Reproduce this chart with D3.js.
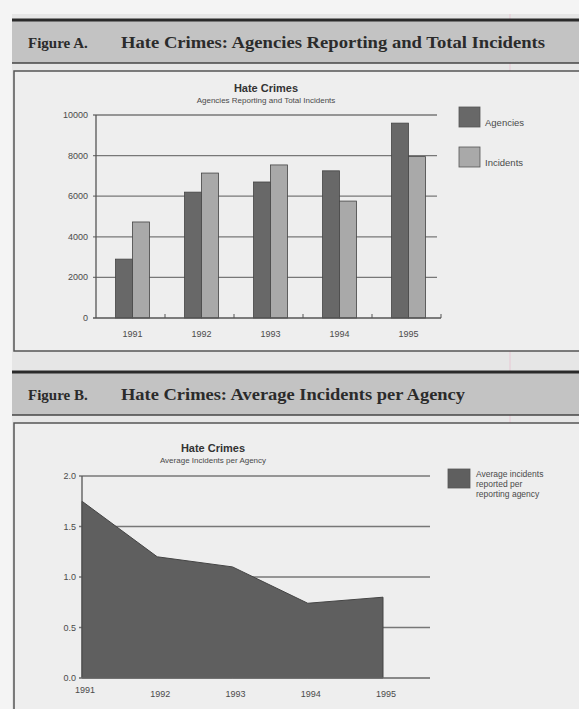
<!DOCTYPE html>
<html>
<head>
<meta charset="utf-8">
<script src="https://cdn.jsdelivr.net/npm/d3@7"></script>
<style>
  body { margin: 0; background: #f4f4f4; }
  svg { display: block; }
</style>
</head>
<body>
<svg id="page" width="579" height="709"></svg>
<script>
// data
const years = ["1991", "1992", "1993", "1994", "1995"];
const agencies = [2900, 6200, 6700, 7250, 9600];
const incidents = [4730, 7140, 7540, 5760, 7950];
const avgPerAgency = [1.75, 1.2, 1.1, 0.74, 0.8];
const ticksA = [0, 2000, 4000, 6000, 8000, 10000];
const ticksB = [0, 0.5, 1.0, 1.5, 2.0];
const seriesNames = ["Agencies", "Incidents"];
const legendB = ["Average incidents", "reported per", "reporting agency"];

const svg = d3.select("#page");
const sans = "'Liberation Sans', Arial, sans-serif";
const serif = "'Liberation Serif', 'Times New Roman', serif";
const txt = "#4a4a4a";

// paper
svg.append("rect").attr("x", 12).attr("y", 14).attr("width", 567).attr("height", 695).attr("fill", "#e6e6e6");
// faint margin line from the page
svg.append("line").attr("x1", 510).attr("x2", 510).attr("y1", 14).attr("y2", 709)
  .attr("stroke", "#e8c8d4").attr("stroke-width", 1);

// header band + chart box, for one figure
function frame(top, boxBottom, label, title, titleLen) {
  svg.append("rect").attr("x", 12).attr("y", top).attr("width", 567).attr("height", 43)
    .attr("fill", "#c3c3c3");
  svg.append("line").attr("x1", 12).attr("x2", 579).attr("y1", top).attr("y2", top)
    .attr("stroke", "#2a2a2a").attr("stroke-width", 3);
  svg.append("line").attr("x1", 12).attr("x2", 579).attr("y1", top + 43).attr("y2", top + 43)
    .attr("stroke", "#444").attr("stroke-width", 1.5);
  svg.append("rect").attr("x", 14).attr("y", top + 51).attr("width", 570).attr("height", boxBottom - top - 51)
    .attr("fill", "#eeeeee").attr("stroke", "#555").attr("stroke-width", 1.5);
  svg.append("text").attr("x", 28).attr("y", top + 28)
    .attr("font-family", serif).attr("font-weight", "bold").attr("font-size", 15)
    .attr("fill", "#2b2b2b").text(label);
  svg.append("text").attr("x", 121).attr("y", top + 28)
    .attr("font-family", serif).attr("font-weight", "bold").attr("font-size", 16)
    .attr("fill", "#2b2b2b").attr("textLength", titleLen).attr("lengthAdjust", "spacingAndGlyphs")
    .text(title);
}

frame(20, 351, "Figure A.", "Hate Crimes: Agencies Reporting and Total Incidents", 424);
frame(372, 712, "Figure B.", "Hate Crimes: Average Incidents per Agency", 344);

function chartTitle(cx, y, sub) {
  svg.append("text").attr("x", cx).attr("y", y).attr("text-anchor", "middle")
    .attr("font-family", sans).attr("font-weight", "bold").attr("font-size", 11).attr("fill", "#333")
    .text("Hate Crimes");
  svg.append("text").attr("x", cx).attr("y", y + 11).attr("text-anchor", "middle")
    .attr("font-family", sans).attr("font-size", 8).attr("fill", txt)
    .text(sub);
}

// ---------- Figure A: grouped bars ----------
const xA = d3.scaleBand().domain(years).range([96, 441]);
const yA = d3.scaleLinear().domain([0, 10000]).range([318, 115]);
const inner = d3.scaleBand().domain(seriesNames).range([0, 34]);
const colorsA = ["#686868", "#a9a9a9"];

chartTitle(266, 92, "Agencies Reporting and Total Incidents");

const gA = svg.append("g");
gA.selectAll(".grid").data(ticksA.slice(1)).join("line")
  .attr("x1", 93).attr("x2", 437)
  .attr("y1", d => yA(d)).attr("y2", d => yA(d))
  .attr("stroke", "#777").attr("stroke-width", 1.3);

gA.selectAll(".ylab").data(ticksA).join("text")
  .attr("x", 88).attr("y", d => yA(d) + 3).attr("text-anchor", "end")
  .attr("font-family", sans).attr("font-size", 9).attr("fill", txt)
  .text(d => d);

const groups = gA.selectAll(".yr").data(years).join("g")
  .attr("transform", d => `translate(${xA(d) + xA.bandwidth() / 2 - 15},0)`);
groups.selectAll("rect").data((d, i) => [agencies[i], incidents[i]]).join("rect")
  .attr("x", (d, j) => inner(seriesNames[j]))
  .attr("width", inner.bandwidth())
  .attr("y", d => yA(d))
  .attr("height", d => yA(0) - yA(d))
  .attr("fill", (d, j) => colorsA[j])
  .attr("stroke", "#444").attr("stroke-width", 0.8);

// axes
gA.append("line").attr("x1", 96).attr("x2", 96).attr("y1", 115).attr("y2", 318)
  .attr("stroke", "#555").attr("stroke-width", 1.3);
gA.append("line").attr("x1", 93).attr("x2", 441).attr("y1", 318).attr("y2", 318)
  .attr("stroke", "#555").attr("stroke-width", 1.3);
gA.selectAll(".xt").data(years.slice(1).concat(["end"])).join("line")
  .attr("x1", d => d === "end" ? 441 : xA(d)).attr("x2", d => d === "end" ? 441 : xA(d))
  .attr("y1", 318).attr("y2", 314).attr("stroke", "#555");
gA.selectAll(".xlab").data(years).join("text")
  .attr("x", d => xA(d) + xA.bandwidth() / 2 + 2).attr("y", 337).attr("text-anchor", "middle")
  .attr("font-family", sans).attr("font-size", 9).attr("fill", txt)
  .text(d => d);

// legend A
seriesNames.forEach((name, i) => {
  svg.append("rect").attr("x", 459).attr("y", 107 + i * 40).attr("width", 21).attr("height", 20)
    .attr("fill", colorsA[i]).attr("stroke", "#555").attr("stroke-width", 0.8);
  svg.append("text").attr("x", 485).attr("y", 126 + i * 40)
    .attr("font-family", sans).attr("font-size", 9.5).attr("fill", txt).text(name);
});

// ---------- Figure B: area ----------
const xB = d3.scalePoint().domain(years).range([82, 383]);
const yB = d3.scaleLinear().domain([0, 2]).range([678, 476]);

chartTitle(213, 452, "Average Incidents per Agency");

const gB = svg.append("g");
gB.selectAll(".grid").data(ticksB.slice(1)).join("line")
  .attr("x1", 79).attr("x2", 430)
  .attr("y1", d => yB(d)).attr("y2", d => yB(d))
  .attr("stroke", "#777").attr("stroke-width", 1.3);

const area = d3.area()
  .x((d, i) => xB(years[i]))
  .y0(yB(0))
  .y1(d => yB(d));
gB.append("path").datum(avgPerAgency).attr("d", area)
  .attr("fill", "#5f5f5f").attr("stroke", "#444").attr("stroke-width", 1);

gB.append("line").attr("x1", 82).attr("x2", 82).attr("y1", 476).attr("y2", 678)
  .attr("stroke", "#555").attr("stroke-width", 1.3);
gB.append("line").attr("x1", 79).attr("x2", 430).attr("y1", 678).attr("y2", 678)
  .attr("stroke", "#666").attr("stroke-width", 1.3);

gB.selectAll(".ylab").data(ticksB).join("text")
  .attr("x", 76).attr("y", d => yB(d) + 3).attr("text-anchor", "end")
  .attr("font-family", sans).attr("font-size", 9).attr("fill", txt)
  .text(d3.format(".1f"));
gB.selectAll(".xlab").data(years).join("text")
  .attr("x", d => xB(d) + 3).attr("y", d => d === "1991" ? 693 : 697).attr("text-anchor", "middle")
  .attr("font-family", sans).attr("font-size", 9).attr("fill", txt)
  .text(d => d);

// legend B
svg.append("rect").attr("x", 448).attr("y", 469).attr("width", 22).attr("height", 19)
  .attr("fill", "#5f5f5f").attr("stroke", "#555").attr("stroke-width", 0.8);
svg.append("text").attr("x", 476).attr("y", 477)
  .attr("font-family", sans).attr("font-size", 8.5).attr("fill", txt)
  .selectAll("tspan").data(legendB).join("tspan")
  .attr("x", 476).attr("dy", (d, i) => i ? 10 : 0).text(d => d);
</script>
</body>
</html>
